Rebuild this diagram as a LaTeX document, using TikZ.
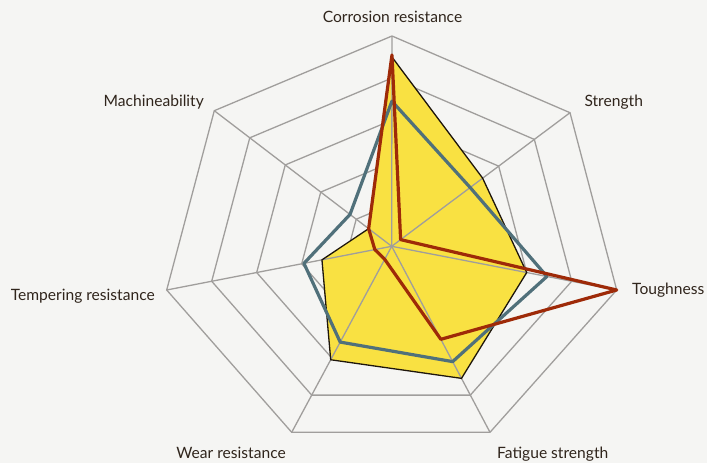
\documentclass[tikz,border=0pt]{standalone}
\usepackage{fontspec}
\setmainfont{Lato}
\usetikzlibrary{calc}
\definecolor{bgcol}{HTML}{F5F5F3}
\definecolor{gridcol}{HTML}{A09E9C}
\definecolor{yellowfill}{HTML}{F9E142}
\definecolor{yellowedge}{HTML}{1E160C}
\definecolor{bluecol}{HTML}{50707A}
\definecolor{redcol}{HTML}{9E2A08}
\definecolor{textcol}{HTML}{30251C}
\newcommand\radarpoly[7]{($(C)!#1!(V1)$) -- ($(C)!#2!(V2)$) -- ($(C)!#3!(V3)$) -- ($(C)!#4!(V4)$) -- ($(C)!#5!(V5)$) -- ($(C)!#6!(V6)$) -- ($(C)!#7!(V7)$) -- cycle}
\tikzset{
  gridline/.style={draw=gridcol, line width=1.3pt, line join=miter},
  yfill/.style={fill=yellowfill, draw=none},
  yedge/.style={draw=yellowedge, line width=1.3pt, line join=miter},
  blueline/.style={draw=bluecol, line width=3.2pt, line join=round},
  redline/.style={draw=redcol, line width=3.2pt, line join=round},
  axislabel/.style={text=textcol, font=\fontsize{15.6}{18}\selectfont, inner sep=0pt}
}
\begin{document}
\begin{tikzpicture}[x=1pt,y=-1pt]
\useasboundingbox (0,0) rectangle (707,463);
\fill[bgcol] (0,0) rectangle (707,463);
\coordinate (C) at (391.7,246.3);
\coordinate (V1) at (392,36);
\coordinate (V2) at (570,112.7);
\coordinate (V3) at (616.7,290);
\coordinate (V4) at (490,432.3);
\coordinate (V5) at (291.7,432.3);
\coordinate (V6) at (166.7,290);
\coordinate (V7) at (214.3,110.7);
% grid rings
\foreach \f in {0.2,0.4,0.6,0.8,1} {
  \draw[gridline] \radarpoly{\f}{\f}{\f}{\f}{\f}{\f}{\f};
}
% yellow fill
\path[yfill] \radarpoly{0.90}{0.51}{0.60}{0.71}{0.61}{0.31}{0.13};
% spokes
\foreach \v in {V1,V2,V3,V4,V5,V6,V7} {
  \draw[gridline] (C) -- (\v);
}
% series
\draw[yedge] \radarpoly{0.90}{0.51}{0.60}{0.71}{0.61}{0.31}{0.13};
\draw[blueline] \radarpoly{0.69}{0.44}{0.69}{0.62}{0.515}{0.39}{0.235};
\draw[redline] \radarpoly{0.91}{0.05}{1.0}{0.5}{0.07}{0.075}{0.13};
% labels
\node[axislabel, anchor=base] (lcorr) at (392.5,22) {Corrosion resistance};
\node[axislabel, anchor=base west] (lstr) at (584.3,106) {Strength};
\node[axislabel, anchor=base east] (ltough) at (704.5,294) {Toughness};
\node[axislabel, anchor=base west] (lfat) at (497,458) {Fatigue strength};
\node[axislabel, anchor=base east] (lwear) at (286,458) {Wear resistance};
\node[axislabel, anchor=base east] (ltemp) at (155,300.5) {Tempering resistance};
\node[axislabel, anchor=base east] (lmach) at (204,106) {Machineability};
\end{tikzpicture}
\end{document}
